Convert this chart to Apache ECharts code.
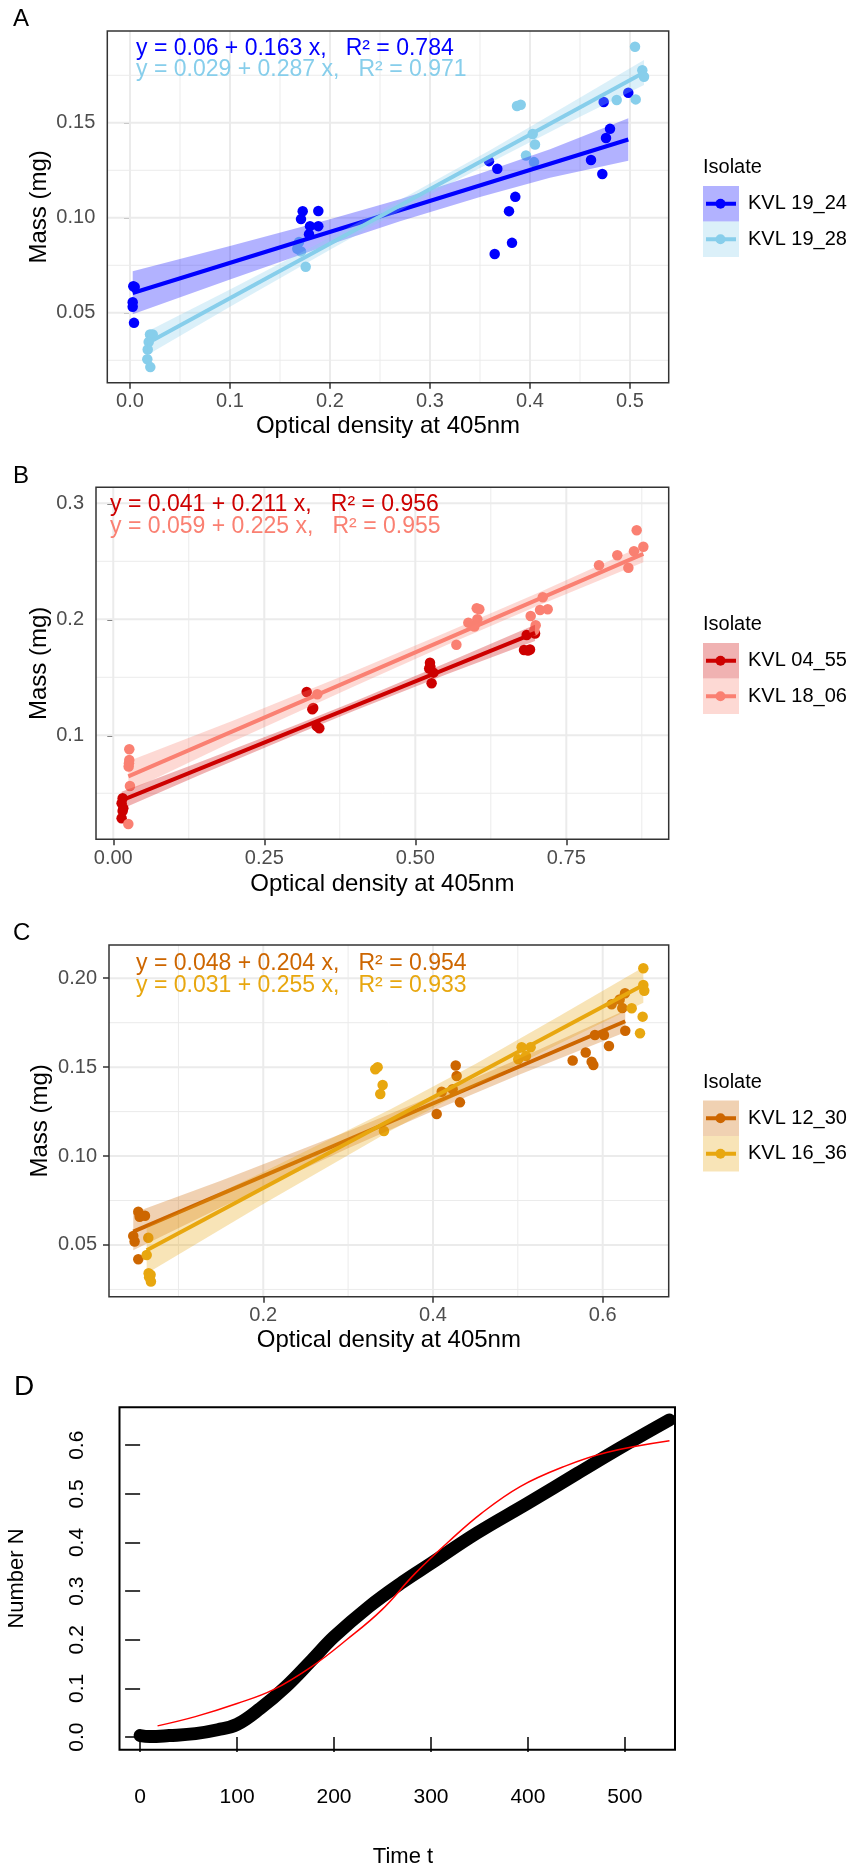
<!DOCTYPE html>
<html><head><meta charset="utf-8">
<script src="https://cdn.jsdelivr.net/npm/echarts@6/dist/echarts.min.js"></script>
<style>html,body{margin:0;padding:0;background:#fff}#c{width:854px;height:1869px}</style>
</head><body><div id="c"></div>
<script>
// ---------------- DATA ----------------
// Panel A
const A_names = ['KVL 19_24', 'KVL 19_28'];
const A_eq = ['y = 0.06 + 0.163 x,   R\u00b2 = 0.784', 'y = 0.029 + 0.287 x,   R\u00b2 = 0.971'];
const A_xticks = [0, 0.1, 0.2, 0.3, 0.4, 0.5];
const A_xminor = [0.05, 0.15, 0.25, 0.35, 0.45];
const A_yticks = [0.05, 0.10, 0.15];
const A_yminor = [0.025, 0.075, 0.125, 0.175];
const A_pts1924 = [[0.0033,0.0640],[0.0047,0.0636],[0.0027,0.0556],[0.0027,0.0532],[0.0040,0.0447],
  [0.1727,0.1034],[0.1710,0.0993],[0.1883,0.1036],[0.1800,0.0956],[0.1883,0.0956],[0.1790,0.0913],
  [0.3590,0.1298],[0.3673,0.1258],[0.3853,0.1110],[0.3790,0.1035],[0.3820,0.0868],[0.3647,0.0809],
  [0.4610,0.1304],[0.4723,0.1230],[0.4760,0.1420],[0.4800,0.1468],[0.4737,0.1609],[0.4983,0.1658]];
const A_pts1928 = [[0.0200,0.0386],[0.0227,0.0386],[0.0187,0.0346],[0.0177,0.0307],[0.0173,0.0255],[0.0203,0.0214],
  [0.1690,0.0872],[0.1673,0.0837],[0.1710,0.0823],[0.1757,0.0742],
  [0.3870,0.1588],[0.3907,0.1595],[0.4027,0.1441],[0.4050,0.1386],[0.3960,0.1328],[0.4040,0.1293],
  [0.4867,0.1620],[0.5057,0.1623],[0.5050,0.1900],[0.5123,0.1776],[0.5140,0.1742]];
const A_fit1924 = [[0.0027,0.0604],[0.4983,0.1412]];
const A_fit1928 = [[0.0173,0.0340],[0.5140,0.1765]];
const A_band1924 = [[0.0027,0.0492,0.0718],[0.1,0.0675,0.0851],[0.2,0.0860,0.0992],[0.27,0.0982,0.1098],[0.35,0.1109,0.1233],[0.42,0.1210,0.1360],[0.4983,0.1300,0.1524]];
const A_band1928 = [[0.0173,0.0278,0.0402],[0.1,0.0532,0.0622],[0.2,0.0832,0.0896],[0.28,0.1066,0.1122],[0.36,0.1290,0.1356],[0.44,0.1505,0.1601],[0.5140,0.1699,0.1831]];

// Panel B
const B_names = ['KVL 04_55', 'KVL 18_06'];
const B_eq = ['y = 0.041 + 0.211 x,   R\u00b2 = 0.956', 'y = 0.059 + 0.225 x,   R\u00b2 = 0.955'];
const B_xticks = [0, 0.25, 0.5, 0.75];
const B_xminor = [0.125, 0.375, 0.625, 0.875];
const B_yticks = [0.1, 0.2, 0.3];
const B_yminor = [0.05, 0.15, 0.25];
const B_pts0455 = [[0.0155,0.0457],[0.0138,0.0414],[0.0166,0.0371],[0.0155,0.0347],[0.0138,0.0284],
  [0.3202,0.1373],[0.3295,0.1224],[0.3310,0.1235],[0.3367,0.1080],[0.3411,0.1060],
  [0.5243,0.1626],[0.5250,0.1590],[0.5300,0.1540],[0.5270,0.1448],[0.5230,0.1575],
  [0.6844,0.1865],[0.6982,0.1878],[0.6800,0.1735],[0.6866,0.1730],[0.6899,0.1740]];
const B_pts1806 = [[0.0265,0.0879],[0.0265,0.0787],[0.0260,0.0759],[0.0255,0.0730],[0.0276,0.0563],[0.0249,0.0235],
  [0.3378,0.1353],
  [0.5680,0.1781],[0.5878,0.1971],[0.5977,0.1937],[0.6027,0.2000],[0.6017,0.2095],[0.6060,0.2086],
  [0.6910,0.2028],[0.6993,0.1948],[0.6970,0.1905],[0.7110,0.2190],[0.7065,0.2080],[0.7192,0.2086],
  [0.8041,0.2466],[0.8344,0.2552],[0.8527,0.2445],[0.8620,0.2586],[0.8665,0.2767],[0.8775,0.2626]];
const B_fit0455 = [[0.0138,0.0439],[0.6982,0.1883]];
const B_fit1806 = [[0.0249,0.0646],[0.8775,0.2564]];
const B_band0455 = [[0.0138,0.0364,0.0514],[0.15,0.0672,0.0782],[0.3,0.1001,0.1085],[0.4,0.1214,0.1294],[0.55,0.1521,0.1621],[0.6982,0.1813,0.1953]];
const B_band1806 = [[0.0249,0.0516,0.0776],[0.2,0.0950,0.1130],[0.4,0.1425,0.1555],[0.55,0.1773,0.1883],[0.7,0.2110,0.2220],[0.8775,0.2492,0.2636]];

// Panel C
const C_names = ['KVL 12_30', 'KVL 16_36'];
const C_eq = ['y = 0.048 + 0.204 x,   R\u00b2 = 0.954', 'y = 0.031 + 0.255 x,   R\u00b2 = 0.933'];
const C_xticks = [0.2, 0.4, 0.6];
const C_xminor = [0.1, 0.3, 0.5];
const C_yticks = [0.05, 0.10, 0.15, 0.20];
const C_yminor = [0.025, 0.075, 0.125, 0.175];
const C_pts1230 = [[0.0527,0.0687],[0.0543,0.0659],[0.0606,0.0664],[0.0468,0.0551],[0.0484,0.0519],[0.0527,0.0420],
  [0.4044,0.1237],[0.4103,0.1362],[0.4232,0.1376],[0.4268,0.1509],[0.4279,0.1450],[0.4318,0.1302],
  [0.5646,0.1537],[0.5800,0.1582],[0.5870,0.1531],[0.5890,0.1512],[0.5909,0.1681],[0.6015,0.1681],
  [0.6074,0.1619],[0.6266,0.1705],[0.6231,0.1833],[0.6106,0.1854],[0.6263,0.1916],[0.6200,0.1880]];
const C_pts1636 = [[0.0645,0.0541],[0.0626,0.0444],[0.0649,0.0341],[0.0672,0.0332],[0.0655,0.0319],[0.0676,0.0294],
  [0.3320,0.1488],[0.3348,0.1500],[0.3407,0.1400],[0.3379,0.1349],[0.3422,0.1141],
  [0.5045,0.1612],[0.5151,0.1612],[0.5096,0.1563],[0.5005,0.1544],
  [0.6479,0.2056],[0.6479,0.1962],[0.6490,0.1930],[0.6342,0.1831],[0.6471,0.1784],[0.6440,0.1691]];
const C_fit1230 = [[0.0468,0.0575],[0.6266,0.1758]];
const C_fit1636 = [[0.0626,0.0470],[0.6479,0.1962]];
const C_band1230 = [[0.0468,0.0470,0.0680],[0.15,0.0711,0.0861],[0.3,0.1044,0.1140],[0.4,0.1254,0.1338],[0.5,0.1455,0.1545],[0.6266,0.1696,0.1820]];
const C_band1636 = [[0.0626,0.0340,0.0600],[0.2,0.0730,0.0910],[0.35,0.1143,0.1263],[0.45,0.1398,0.1518],[0.55,0.1635,0.1791],[0.6479,0.1862,0.2062]];

// Panel D
const D_t = [0, 10, 30, 57, 80, 100, 124, 150, 177, 200, 236, 271, 300, 347, 400, 451, 500, 546];
const D_N = [0.003, 0.001, 0.003, 0.007, 0.015, 0.026, 0.059, 0.103, 0.158, 0.206, 0.268, 0.319, 0.357, 0.419, 0.481, 0.542, 0.600, 0.652];
const D_fit_t = [18, 57, 100, 137, 177, 213, 249, 284, 320, 352, 392, 437, 481, 546];
const D_fit_N = [0.023, 0.042, 0.069, 0.097, 0.145, 0.200, 0.261, 0.337, 0.405, 0.460, 0.515, 0.556, 0.585, 0.609];
const D_xticks = [0, 100, 200, 300, 400, 500];
const D_yticks = [0, 0.1, 0.2, 0.3, 0.4, 0.5, 0.6];

// ---------------- BUILD ----------------
const FONT = "'Liberation Sans', Arial, Helvetica, sans-serif";
function rgba(hex, a) {
  const r = parseInt(hex.slice(1,3),16), g = parseInt(hex.slice(3,5),16), b = parseInt(hex.slice(5,7),16);
  return 'rgba(' + r + ',' + g + ',' + b + ',' + a + ')';
}

const panels = [
  { label:'A', labelY:19, grid:{left:107.3, top:31, width:561.4, height:351.7},
    x:{min:-0.0227, max:0.5387, ticks:A_xticks, minor:A_xminor, dec:1},
    y:{min:0.0132, max:0.1983, ticks:A_yticks, minor:A_yminor, dec:2},
    colors:['#0000FF', '#87CEEB'], names:A_names, eq:A_eq,
    pts:[A_pts1924, A_pts1928], fit:[A_fit1924, A_fit1928], band:[A_band1924, A_band1928],
    eqX:136, eqY:[48.5, 70], xTitleY:426, yTitleX:39, legTitleY:167, legRowTop:186 },
  { label:'B', labelY:476.5, grid:{left:96, top:487.3, width:572.7, height:352},
    x:{min:-0.0286, max:0.9195, ticks:B_xticks, minor:B_xminor, dec:2},
    y:{min:0.0103, max:0.3138, ticks:B_yticks, minor:B_yminor, dec:1},
    colors:['#CD0000', '#FA8072'], names:B_names, eq:B_eq,
    pts:[B_pts0455, B_pts1806], fit:[B_fit0455, B_fit1806], band:[B_band0455, B_band1806],
    eqX:110, eqY:[505, 527], xTitleY:884, yTitleX:39, legTitleY:624.5, legRowTop:643 },
  { label:'C', labelY:933.5, grid:{left:109, top:945, width:559.7, height:351.7},
    x:{min:0.0182, max:0.6778, ticks:C_xticks, minor:C_xminor, dec:1},
    y:{min:0.0209, max:0.2187, ticks:C_yticks, minor:C_yminor, dec:2},
    colors:['#CD6600', '#E8A70F'], names:C_names, eq:C_eq,
    pts:[C_pts1230, C_pts1636], fit:[C_fit1230, C_fit1636], band:[C_band1230, C_band1636],
    eqX:136, eqY:[963.5, 985.5], xTitleY:1340, yTitleX:40, legTitleY:1082, legRowTop:1100.5 }
];

const option = { animation:false, grid:[], xAxis:[], yAxis:[], series:[], graphic:{elements:[]} };
const G = option.graphic.elements;

function txt(x, y, text, size, color, align, rot, weight) {
  const el = { type:'text', x:x, y:y, z:100, silent:true,
    style:{ text:text, fill:color, fontSize:size, fontFamily:FONT, align:align||'left', verticalAlign:'middle', fontWeight: weight||'normal' } };
  if (rot) el.rotation = rot;
  G.push(el);
}

panels.forEach(function(P, i) {
  const g = P.grid;
  option.grid.push({ left:g.left, top:g.top, width:g.width, height:g.height, show:false, containLabel:false, outerBoundsMode:'none' });
  option.xAxis.push({ type:'value', gridIndex:i, min:P.x.min, max:P.x.max,
    axisLine:{show:false}, splitLine:{show:false},
    axisTick:{show:true, customValues:P.x.ticks, length:6, lineStyle:{color:'#333333', width:1.5}},
    axisLabel:{show:true, customValues:P.x.ticks, margin:9, color:'#4D4D4D', fontSize:20, fontFamily:FONT,
      formatter:(function(d){ return function(v){ return Number(v).toFixed(d); }; })(P.x.dec)} });
  option.yAxis.push({ type:'value', gridIndex:i, min:P.y.min, max:P.y.max,
    axisLine:{show:false}, splitLine:{show:false},
    axisTick:{show:true, customValues:P.y.ticks, length:6, lineStyle:{color:'#333333', width:1.5}},
    axisLabel:{show:true, customValues:P.y.ticks, margin:12, color:'#4D4D4D', fontSize:20, fontFamily:FONT,
      formatter:(function(d){ return function(v){ return Number(v).toFixed(d); }; })(P.y.dec)} });

  // grid lines
  const gl = [];
  P.x.ticks.forEach(function(v){ gl.push([v, P.y.min, 0, 1]); });
  P.x.minor.forEach(function(v){ gl.push([v, P.y.min, 0, 0]); });
  P.y.ticks.forEach(function(v){ gl.push([P.x.min, v, 1, 1]); });
  P.y.minor.forEach(function(v){ gl.push([P.x.min, v, 1, 0]); });
  option.series.push({ type:'custom', xAxisIndex:i, yAxisIndex:i, z:1, silent:true, data:gl,
    renderItem:function(params, api) {
      const cs = params.coordSys; const o = api.value(2); const maj = api.value(3);
      const p = api.coord([api.value(0), api.value(1)]);
      const st = { stroke:'#EBEBEB', lineWidth: maj ? 2 : 1 };
      if (o === 0) return { type:'line', shape:{x1:p[0], y1:cs.y, x2:p[0], y2:cs.y+cs.height}, style:st };
      return { type:'line', shape:{x1:cs.x, y1:p[1], x2:cs.x+cs.width, y2:p[1]}, style:st };
    } });

  // points
  P.pts.forEach(function(pts, k) {
    option.series.push({ type:'scatter', xAxisIndex:i, yAxisIndex:i, z:2, data:pts, symbol:'circle', symbolSize:10.5,
      itemStyle:{color:P.colors[k], opacity:1}, silent:true });
  });
  // bands and lines
  P.band.forEach(function(band, k) {
    option.series.push({ type:'custom', xAxisIndex:i, yAxisIndex:i, z:3+2*k, silent:true, data:band,
      renderItem:function(params, api) {
        if (params.dataIndex !== 0) return null;
        const pts = [];
        band.forEach(function(d){ pts.push(api.coord([d[0], d[2]])); });
        for (let m = band.length-1; m >= 0; m--) pts.push(api.coord([band[m][0], band[m][1]]));
        return { type:'polygon', shape:{points:pts}, style:{fill:rgba(P.colors[k], 0.3), stroke:null} };
      } });
    option.series.push({ type:'line', xAxisIndex:i, yAxisIndex:i, z:4+2*k, data:P.fit[k], symbol:'none', showSymbol:false,
      lineStyle:{color:P.colors[k], width:4}, silent:true });
  });

  // border
  G.push({ type:'rect', z:100, silent:true, shape:{x:g.left, y:g.top, width:g.width, height:g.height},
    style:{fill:'rgba(0,0,0,0)', stroke:'#333333', lineWidth:1.5} });
  // panel label
  txt(13, P.labelY, P.label, 24, '#000000', 'left');
  // equations
  P.eq.forEach(function(e, k){ txt(P.eqX, P.eqY[k], e, 23, P.colors[k], 'left'); });
  // axis titles
  txt(g.left + g.width/2, P.xTitleY, 'Optical density at 405nm', 24, '#000000', 'center');
  txt(P.yTitleX, g.top + g.height/2, 'Mass (mg)', 24, '#000000', 'center', Math.PI/2);
  // legend
  txt(703, P.legTitleY, 'Isolate', 20, '#000000', 'left');
  P.names.forEach(function(nm, k) {
    const y0 = P.legRowTop + k*35.5, cy = y0 + 17.75;
    G.push({ type:'rect', z:100, silent:true, shape:{x:703, y:y0, width:36, height:35.5}, style:{fill:rgba(P.colors[k],0.3)} });
    G.push({ type:'line', z:101, silent:true, shape:{x1:706, y1:cy, x2:736, y2:cy}, style:{stroke:P.colors[k], lineWidth:4} });
    G.push({ type:'circle', z:102, silent:true, shape:{cx:720.5, cy:cy, r:5}, style:{fill:P.colors[k]} });
    txt(748, cy, nm, 20, '#000000', 'left');
  });
});

// Panel D (base R style)
const iD = 3;
const gD = {left:119.5, top:1407.3, width:555.5, height:342.4};
option.grid.push({ left:gD.left, top:gD.top, width:gD.width, height:gD.height, show:false, containLabel:false, outerBoundsMode:'none' });
option.xAxis.push({ type:'value', gridIndex:iD, min:-21.25, max:551.7, axisLine:{show:false}, splitLine:{show:false},
  axisTick:{show:true, customValues:D_xticks, length:15, lineStyle:{color:'#000', width:1.5}},
  axisLabel:{show:true, customValues:D_xticks, margin:37, color:'#000', fontSize:21, fontFamily:FONT,
    formatter:function(v){ return String(Math.round(v)); }} });
option.yAxis.push({ type:'value', gridIndex:iD, min:-0.026, max:0.678, axisLine:{show:false}, splitLine:{show:false},
  axisTick:{show:true, customValues:D_yticks, length:15, lineStyle:{color:'#000', width:1.5}},
  axisLabel:{show:true, customValues:D_yticks, margin:32, rotate:90, color:'#000', fontSize:21, fontFamily:FONT,
    formatter:function(v){ return Number(v).toFixed(1); }} });
option.series.push({ type:'line', xAxisIndex:iD, yAxisIndex:iD, z:2, symbol:'none', smooth:0.4, silent:true, clip:false,
  data: D_t.map(function(t, k){ return [t, D_N[k]]; }),
  lineStyle:{color:'#000', width:13, cap:'round', join:'round'} });
option.series.push({ type:'line', xAxisIndex:iD, yAxisIndex:iD, z:3, symbol:'none', smooth:0.4, silent:true,
  data: D_fit_t.map(function(t, k){ return [t, D_fit_N[k]]; }),
  lineStyle:{color:'#FF0000', width:1.5} });
G.push({ type:'rect', z:100, silent:true, shape:{x:gD.left, y:gD.top, width:gD.width, height:gD.height},
  style:{fill:'rgba(0,0,0,0)', stroke:'#000', lineWidth:2} });
txt(14, 1387.5, 'D', 28, '#000000', 'left');
txt(403, 1857, 'Time t', 22, '#000000', 'center');
txt(16.5, gD.top + gD.height/2, 'Number N', 22, '#000000', 'center', Math.PI/2);

const chart = echarts.init(document.getElementById('c'), null, {renderer:'canvas'});
chart.setOption(option);
</script></body></html>
